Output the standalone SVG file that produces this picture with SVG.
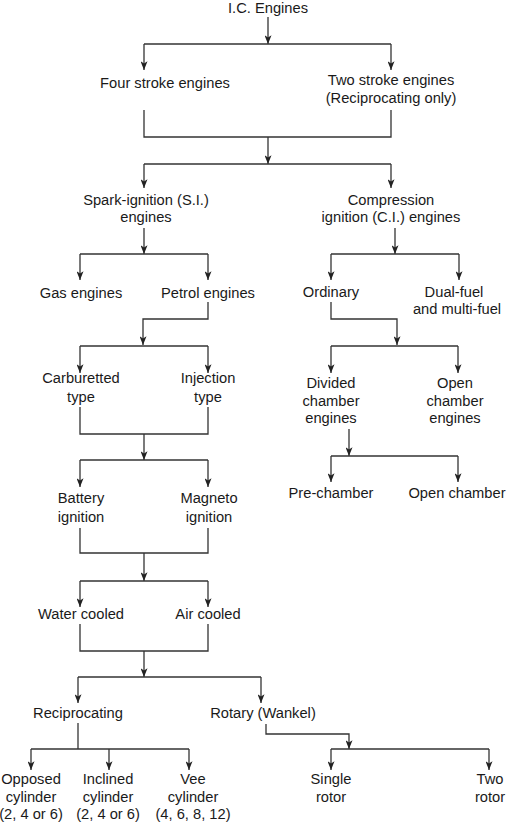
<svg xmlns="http://www.w3.org/2000/svg" width="508" height="824" viewBox="0 0 508 824">
<defs>
<style>
text{font-family:"Liberation Sans",Arial,Helvetica,sans-serif;font-size:14.7px;fill:#1a1a1a;text-anchor:middle}
.c line,.c polyline{stroke:#333;stroke-width:1.3;fill:none}
.a{marker-end:url(#ah)}
</style>
<marker id="ah" viewBox="0 0 10 8" refX="10" refY="4" markerWidth="9" markerHeight="7" markerUnits="userSpaceOnUse" orient="auto">
<path d="M0,0 L10,4 L0,8 L2.5,4 z" fill="#222"/>
</marker>
</defs>
<rect width="508" height="824" fill="#fff"/>
<g class="c" id="connectors">
<line class="a" x1="268" y1="17" x2="268" y2="44"/>
<line x1="144" y1="44" x2="391" y2="44"/>
<line class="a" x1="144" y1="44" x2="144" y2="70"/>
<line class="a" x1="391" y1="44" x2="391" y2="70"/>
<polyline points="144,110 144,137 391,137 391,110"/>
<line class="a" x1="268" y1="137" x2="268" y2="164"/>
<line x1="144" y1="164" x2="391" y2="164"/>
<line class="a" x1="144" y1="164" x2="144" y2="188"/>
<line class="a" x1="391" y1="164" x2="391" y2="188"/>
<line class="a" x1="144" y1="228" x2="144" y2="254"/>
<line x1="80" y1="254" x2="208" y2="254"/>
<line class="a" x1="80" y1="254" x2="80" y2="280"/>
<line class="a" x1="208" y1="254" x2="208" y2="280"/>
<line class="a" x1="395" y1="228" x2="395" y2="254"/>
<line x1="331" y1="254" x2="459" y2="254"/>
<line class="a" x1="331" y1="254" x2="331" y2="280"/>
<line class="a" x1="459" y1="254" x2="459" y2="280"/>
<polyline class="a" points="208,302 208,319 143,319 143,345"/>
<line x1="80" y1="346" x2="208" y2="346"/>
<line class="a" x1="80" y1="346" x2="80" y2="373"/>
<line class="a" x1="208" y1="346" x2="208" y2="373"/>
<polyline class="a" points="331,302 331,319 397,319 397,345"/>
<line x1="331" y1="346" x2="458" y2="346"/>
<line class="a" x1="331" y1="346" x2="331" y2="373"/>
<line class="a" x1="458" y1="346" x2="458" y2="373"/>
<polyline points="80,407 80,434 208,434 208,407"/>
<line class="a" x1="144" y1="434" x2="144" y2="460"/>
<line x1="80" y1="460" x2="208" y2="460"/>
<line class="a" x1="80" y1="460" x2="80" y2="487"/>
<line class="a" x1="208" y1="460" x2="208" y2="487"/>
<line class="a" x1="349" y1="429" x2="349" y2="456"/>
<line x1="331" y1="456" x2="458" y2="456"/>
<line class="a" x1="331" y1="456" x2="331" y2="482"/>
<line class="a" x1="458" y1="456" x2="458" y2="482"/>
<polyline points="80,528 80,553 208,553 208,528"/>
<line class="a" x1="144" y1="553" x2="144" y2="581"/>
<line x1="80" y1="581" x2="208" y2="581"/>
<line class="a" x1="80" y1="581" x2="80" y2="607"/>
<line class="a" x1="208" y1="581" x2="208" y2="607"/>
<polyline points="80,624 80,651 208,651 208,624"/>
<line class="a" x1="144" y1="651" x2="144" y2="677"/>
<line x1="78" y1="677" x2="261" y2="677"/>
<line class="a" x1="78" y1="677" x2="78" y2="703"/>
<line class="a" x1="261" y1="677" x2="261" y2="703"/>
<line x1="78" y1="723" x2="78" y2="749"/>
<line x1="31" y1="749" x2="189" y2="749"/>
<line class="a" x1="31" y1="749" x2="31" y2="770"/>
<line class="a" x1="109" y1="749" x2="109" y2="770"/>
<line class="a" x1="189" y1="749" x2="189" y2="770"/>
<polyline class="a" points="266,724 266,734 349,734 349,749"/>
<line x1="331" y1="749" x2="489" y2="749"/>
<line class="a" x1="331" y1="749" x2="331" y2="770"/>
<line class="a" x1="489" y1="749" x2="489" y2="770"/>
</g>
<g id="ic"><text x="268" y="12.5">I.C. Engines</text></g>
<g id="four"><text x="165" y="88">Four stroke engines</text></g>
<g id="two"><text x="391" y="85">Two stroke engines</text><text x="391" y="103">(Reciprocating only)</text></g>
<g id="si"><text x="146" y="205">Spark-ignition (S.I.)</text><text x="146" y="222">engines</text></g>
<g id="ci"><text x="391" y="205">Compression</text><text x="391" y="222">ignition (C.I.) engines</text></g>
<g id="gas"><text x="81" y="298">Gas engines</text></g>
<g id="petrol"><text x="208" y="298">Petrol engines</text></g>
<g id="ordinary"><text x="331" y="297">Ordinary</text></g>
<g id="dual"><text x="454" y="297">Dual-fuel</text><text x="457" y="314">and multi-fuel</text></g>
<g id="carb"><text x="81" y="383">Carburetted</text><text x="81" y="402">type</text></g>
<g id="inj"><text x="208" y="383">Injection</text><text x="208" y="402">type</text></g>
<g id="divided"><text x="331" y="388">Divided</text><text x="331" y="406">chamber</text><text x="331" y="423">engines</text></g>
<g id="open"><text x="455" y="388">Open</text><text x="455" y="406">chamber</text><text x="455" y="423">engines</text></g>
<g id="pre"><text x="331" y="498">Pre-chamber</text></g>
<g id="opench"><text x="457" y="498">Open chamber</text></g>
<g id="battery"><text x="81" y="503">Battery</text><text x="81" y="522">ignition</text></g>
<g id="magneto"><text x="209" y="503">Magneto</text><text x="209" y="522">ignition</text></g>
<g id="water"><text x="81" y="619">Water cooled</text></g>
<g id="air"><text x="208" y="619">Air cooled</text></g>
<g id="recip"><text x="78" y="718">Reciprocating</text></g>
<g id="rotary"><text x="263" y="718">Rotary (Wankel)</text></g>
<g id="opposed"><text x="31" y="784">Opposed</text><text x="31" y="802">cylinder</text><text x="31" y="819">(2, 4 or 6)</text></g>
<g id="inclined"><text x="108" y="784">Inclined</text><text x="108" y="802">cylinder</text><text x="108" y="819">(2, 4 or 6)</text></g>
<g id="vee"><text x="193" y="784">Vee</text><text x="193" y="802">cylinder</text><text x="193" y="819">(4, 6, 8, 12)</text></g>
<g id="single"><text x="331" y="784">Single</text><text x="331" y="802">rotor</text></g>
<g id="tworotor"><text x="490" y="784">Two</text><text x="490" y="802">rotor</text></g>
</svg>
